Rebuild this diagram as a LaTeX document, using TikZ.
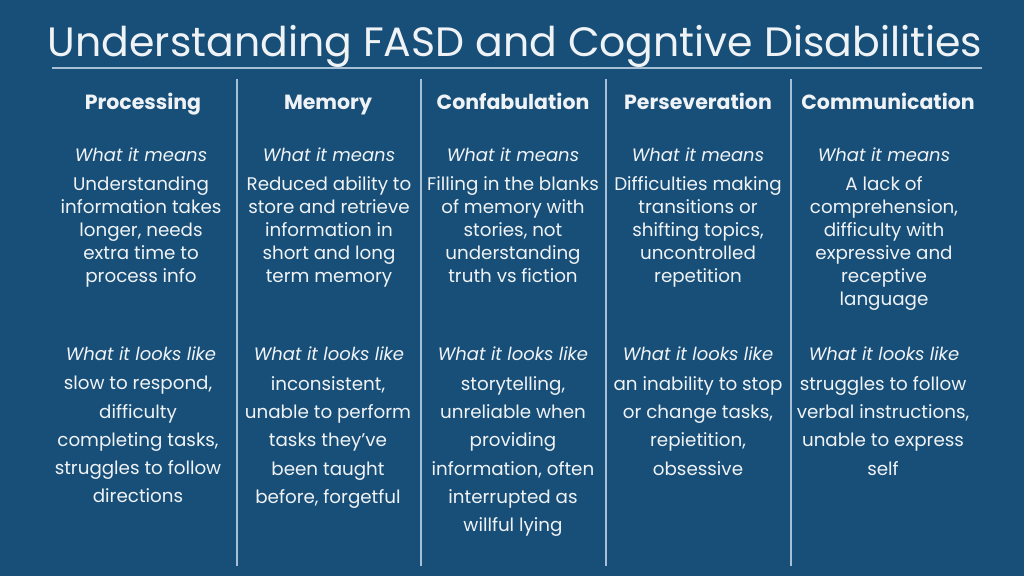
\documentclass[tikz,border=0pt]{standalone}
\usepackage{fontspec}
\setmainfont{Poppins}
\definecolor{bgblue}{RGB}{24,79,120}
\definecolor{rulecol}{RGB}{168,192,214}
\definecolor{txt}{RGB}{240,243,246}
\begin{document}
\begin{tikzpicture}[x=1pt,y=-1pt,
  every node/.style={text=txt, inner sep=0pt},
  titlestyle/.style={font=\fontsize{41}{44}\selectfont},
  headstyle/.style={font=\bfseries\fontsize{20.5}{24}\selectfont, anchor=base},
  substyle/.style={font=\itshape\fontsize{18}{22}\selectfont, anchor=base},
  meanstyle/.style={font=\fontsize{18.3}{23}\selectfont, align=center, anchor=north},
  lookstyle/.style={font=\fontsize{18.3}{28.3}\selectfont, align=center, anchor=north},
  sep/.style={draw=rulecol, line width=1.2pt}]
\fill[bgblue] (0,0) rectangle (1024,576);
\useasboundingbox (0,0) rectangle (1024,576);
\node[titlestyle, anchor=base] (title) at (515,56) {Understanding FASD and Cogntive Disabilities};
\coordinate (hl) at (52,68);
\coordinate (hr) at (982,68);
\draw[sep] (hl) -- (hr);
\foreach \n/\x in {1/237,2/421,3/606,4/791}{
  \coordinate (t\n) at (\x,79);
  \coordinate (b\n) at (\x,566);
  \draw[sep] (t\n) -- (b\n);
}
% headings
\node[headstyle] (h1) at (143,109) {Processing};
\node[headstyle] (h2) at (328,109) {Memory};
\node[headstyle] (h3) at (513,109) {Confabulation};
\node[headstyle] (h4) at (698,109) {Perseveration};
\node[headstyle] (h5) at (888,109) {Communication};
% subheads
\foreach \n/\x in {1/141,2/329,3/513,4/698,5/884}{
  \node[substyle] (m\n) at (\x,161) {What it means};
  \node[substyle] (l\n) at (\x,360) {What it looks like};
}
% meanings
\node[meanstyle] (mt1) at (141,176) {Understanding\\information takes\\longer, needs\\extra time to\\process info};
\node[meanstyle] (mt2) at (329,176) {Reduced ability to\\store and retrieve\\information in\\short and long\\term memory};
\node[meanstyle] (mt3) at (513,176) {Filling in the blanks\\of memory with\\stories, not\\understanding\\truth vs fiction};
\node[meanstyle] (mt4) at (698,176) {Difficulties making\\transitions or\\shifting topics,\\uncontrolled\\repetition};
\node[meanstyle] (mt5) at (884,176) {A lack of\\comprehension,\\difficulty with\\expressive and\\receptive\\language};
% looks like
\node[lookstyle] (lt1) at (138,376) {slow to respond,\\difficulty\\completing tasks,\\struggles to follow\\directions};
\node[lookstyle] (lt2) at (328,376) {inconsistent,\\unable to perform\\tasks they’ve\\been taught\\before, forgetful};
\node[lookstyle] (lt3) at (513,376) {storytelling,\\unreliable when\\providing\\information, often\\interrupted as\\willful lying};
\node[lookstyle] (lt4) at (698,376) {an inability to stop\\or change tasks,\\repietition,\\obsessive};
\node[lookstyle] (lt5) at (883,376) {struggles to follow\\verbal instructions,\\unable to express\\self};
\end{tikzpicture}
\end{document}
